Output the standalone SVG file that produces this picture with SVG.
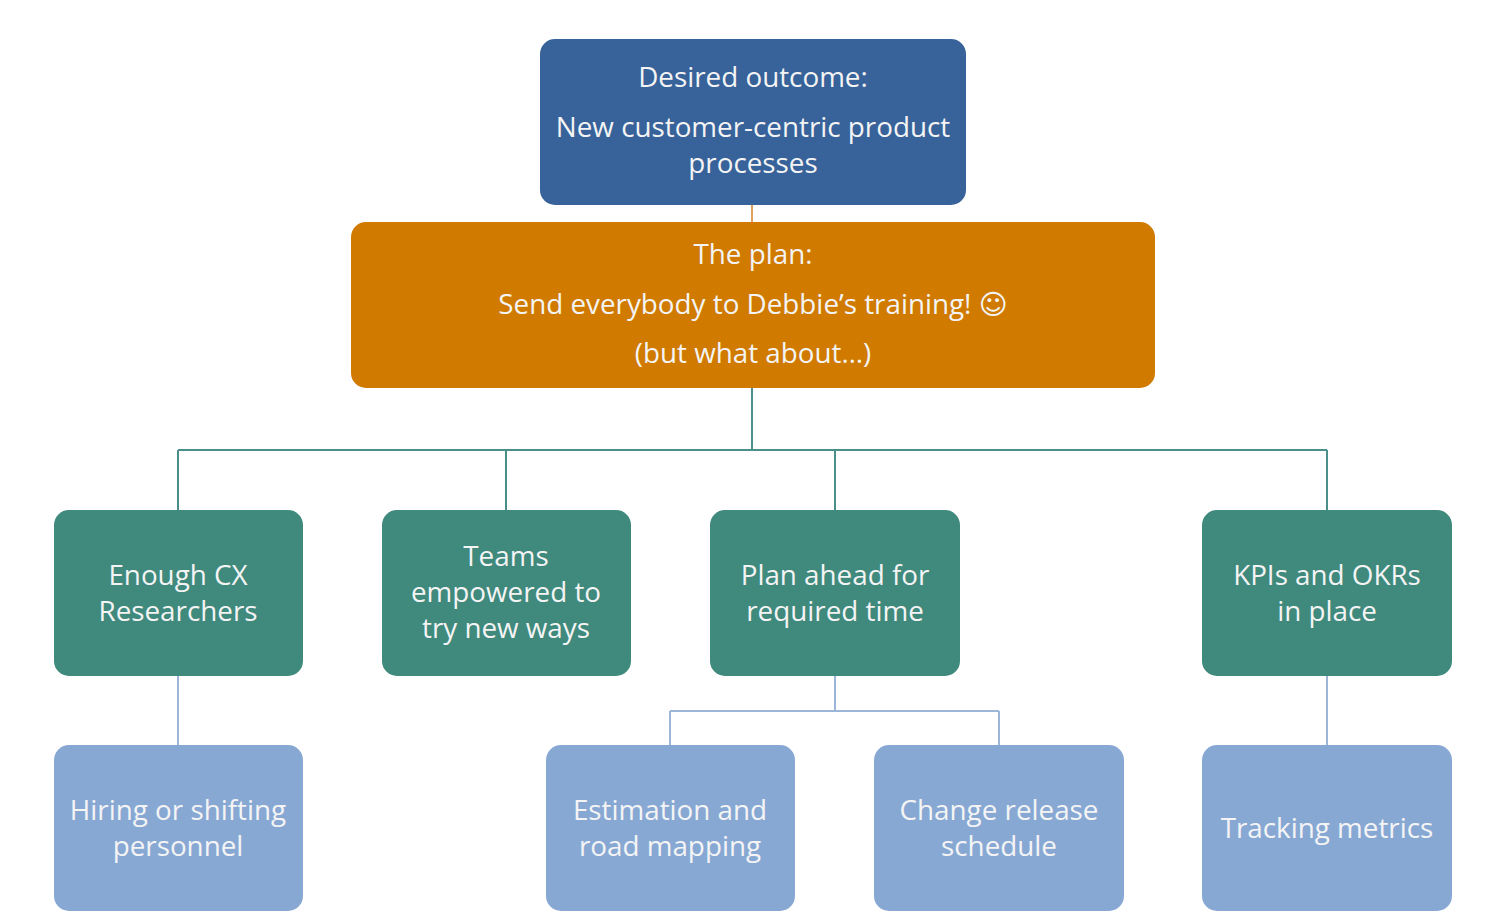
<svg xmlns="http://www.w3.org/2000/svg" width="1490" height="916" viewBox="0 0 1490 916">
<style>
.t{font-family:"Open Sans","Noto Sans","DejaVu Sans",sans-serif;font-size:27.8px;fill:#F4F4F4;text-anchor:middle}
.blue{fill:#37629A}
.orange{fill:#D07A00}
.teal{fill:#3F897D}
.light{fill:#88A8D4}
.lt{stroke:#4A8F8A;stroke-width:2;fill:none}
.ll{stroke:#9DB6D8;stroke-width:2;fill:none}
.lo{stroke:#E0A060;stroke-width:2;fill:none}
</style>
<rect width="1490" height="916" fill="#FFFFFF"/>
<g id="connectors">
<path class="lo" d="M752 205V222"/>
<path class="lt" d="M752 388V450M178 450H1327M178 450V510M506 450V510M835 450V510M1327 450V510"/>
<path class="ll" d="M178 676V745M835 676V711M670 711H999M670 711V745M999 711V745M1327 676V745"/>
</g>
<g id="outcome"><rect class="blue" x="540" y="39" width="426" height="166" rx="15"/>
<text class="t" x="753" y="87">Desired outcome:</text>
<text class="t" x="753" y="137">New customer-centric product</text>
<text class="t" x="753" y="173">processes</text></g>
<g id="plan"><rect class="orange" x="351" y="222" width="804" height="166" rx="15"/>
<text class="t" x="753" y="264">The plan:</text>
<text class="t" x="753" y="314">Send everybody to Debbie’s training! ☺</text>
<text class="t" x="753" y="363">(but what about…)</text></g>
<g id="cx"><rect class="teal" x="54" y="510" width="249" height="166" rx="15"/>
<text class="t" x="178" y="585">Enough CX</text><text class="t" x="178" y="621">Researchers</text></g>
<g id="teams"><rect class="teal" x="382" y="510" width="249" height="166" rx="15"/>
<text class="t" x="506" y="566">Teams</text><text class="t" x="506" y="602">empowered to</text><text class="t" x="506" y="638">try new ways</text></g>
<g id="planahead"><rect class="teal" x="710" y="510" width="250" height="166" rx="15"/>
<text class="t" x="835" y="585">Plan ahead for</text><text class="t" x="835" y="621">required time</text></g>
<g id="kpis"><rect class="teal" x="1202" y="510" width="250" height="166" rx="15"/>
<text class="t" x="1327" y="585">KPIs and OKRs</text><text class="t" x="1327" y="621">in place</text></g>
<g id="hiring"><rect class="light" x="54" y="745" width="249" height="166" rx="15"/>
<text class="t" x="178" y="820">Hiring or shifting</text><text class="t" x="178" y="856">personnel</text></g>
<g id="estimation"><rect class="light" x="546" y="745" width="249" height="166" rx="15"/>
<text class="t" x="670" y="820">Estimation and</text><text class="t" x="670" y="856">road mapping</text></g>
<g id="release"><rect class="light" x="874" y="745" width="250" height="166" rx="15"/>
<text class="t" x="999" y="820">Change release</text><text class="t" x="999" y="856">schedule</text></g>
<g id="tracking"><rect class="light" x="1202" y="745" width="250" height="166" rx="15"/>
<text class="t" x="1327" y="838">Tracking metrics</text></g>
</svg>
